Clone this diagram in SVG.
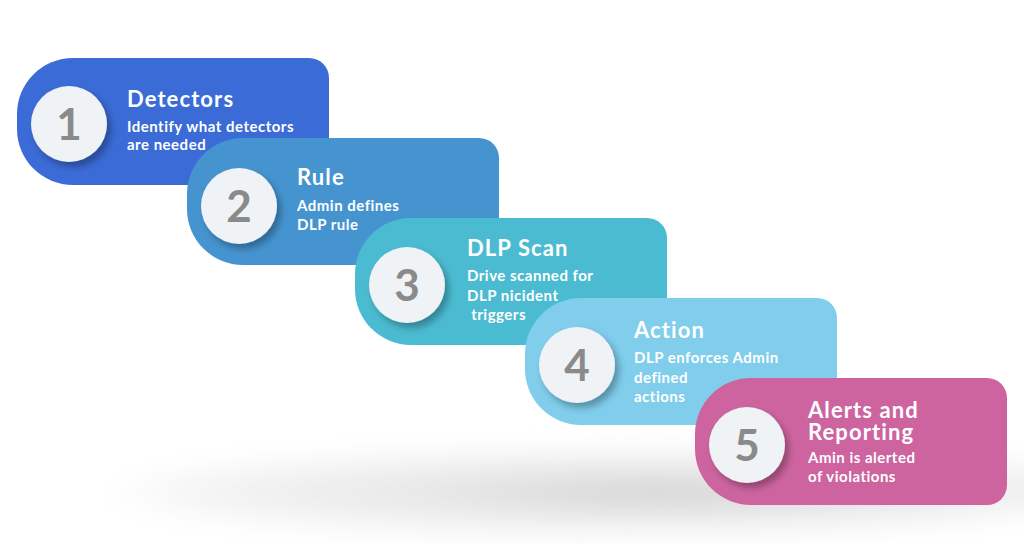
<svg xmlns="http://www.w3.org/2000/svg" width="1024" height="544" viewBox="0 0 1024 544">
<style>
.title{font-family:Lato,"Open Sans",sans-serif;font-weight:700;font-size:22px;letter-spacing:1.1px;fill:#ffffff}
.sub{font-family:Lato,"Open Sans",sans-serif;font-weight:700;font-size:15px;letter-spacing:0.5px;fill:#ffffff}
.num{font-family:Lato,"Open Sans",sans-serif;font-weight:700;font-size:44px;fill:#8a8a8a;text-anchor:middle}
.disc{fill:#eff3f5}
</style>
<defs>
<path id="card" d="M56,0 H292 A20,20 0 0 1 312,20 V107 A20,20 0 0 1 292,127 H56 A56,56 0 0 1 0,71 V56 A56,56 0 0 1 56,0 Z"/>
<filter id="ds" x="-40%" y="-40%" width="190%" height="190%">
<feDropShadow dx="4" dy="5" stdDeviation="3.5" flood-color="#000" flood-opacity="0.3"/>
</filter>
<filter id="blur" x="-20%" y="-100%" width="140%" height="300%">
<feGaussianBlur stdDeviation="14"/>
</filter>
<radialGradient id="gshadow" cx="0.62" cy="0.55" r="0.5">
<stop offset="0" stop-color="#cfcfcf"/>
<stop offset="0.4" stop-color="#e6e6e6"/>
<stop offset="0.85" stop-color="#f5f5f5"/>
<stop offset="1" stop-color="#ffffff" stop-opacity="0"/>
</radialGradient>
</defs>
<rect width="1024" height="544" fill="#ffffff"/>
<ellipse cx="515" cy="488" rx="580" ry="46" fill="url(#gshadow)" filter="url(#blur)"/>

<g id="node1" transform="translate(17,58)">
<use href="#card" fill="#3b6bd6"/>
<circle class="disc" cx="52" cy="66" r="38" filter="url(#ds)"/>
<text class="num" x="52" y="82">1</text>
<text class="title" x="110" y="49">Detectors</text>
<text class="sub" x="110" y="74">Identify what detectors</text>
<text class="sub" x="110" y="92">are needed</text>
</g>

<g id="node2" transform="translate(187,138)">
<use href="#card" fill="#4594d0"/>
<circle class="disc" cx="52" cy="68" r="38" filter="url(#ds)"/>
<text class="num" x="52" y="84">2</text>
<text class="title" x="110" y="47">Rule</text>
<text class="sub" x="110" y="73">Admin defines</text>
<text class="sub" x="110" y="92">DLP rule</text>
</g>

<g id="node3" transform="translate(355,218)">
<use href="#card" fill="#4bbbd1"/>
<circle class="disc" cx="52" cy="67" r="38" filter="url(#ds)"/>
<text class="num" x="52" y="83">3</text>
<text class="title" x="112" y="38">DLP Scan</text>
<text class="sub" x="112" y="63">Drive scanned for</text>
<text class="sub" x="112" y="83">DLP nicident</text>
<text class="sub" x="112" y="102" xml:space="preserve"> triggers</text>
</g>

<g id="node4" transform="translate(525,298)">
<use href="#card" fill="#80cdec"/>
<circle class="disc" cx="52" cy="67" r="38" filter="url(#ds)"/>
<text class="num" x="52" y="83">4</text>
<text class="title" x="109" y="40">Action</text>
<text class="sub" x="109" y="65">DLP enforces Admin</text>
<text class="sub" x="109" y="85">defined</text>
<text class="sub" x="109" y="104">actions</text>
</g>

<g id="node5" transform="translate(695,378)">
<use href="#card" fill="#cd64a0"/>
<circle class="disc" cx="52" cy="67" r="38" filter="url(#ds)"/>
<text class="num" x="52" y="83">5</text>
<text class="title" x="113" y="40">Alerts and<tspan x="113" y="62">Reporting</tspan></text>
<text class="sub" x="113" y="85">Amin is alerted</text>
<text class="sub" x="113" y="104">of violations</text>
</g>

<g id="connectors"></g>
</svg>
